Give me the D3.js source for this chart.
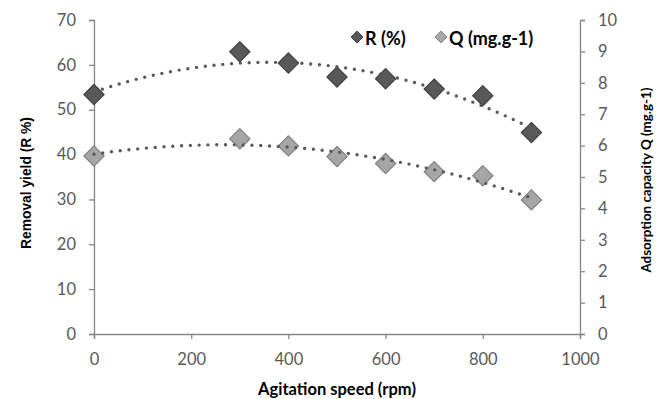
<!DOCTYPE html>
<html>
<head>
<meta charset="utf-8">
<script src="https://cdn.jsdelivr.net/npm/d3@7"></script>
<style>
  body { margin: 0; background: #fff; }
  svg { display: block; }
</style>
</head>
<body>
<svg id="chart" width="661" height="399"></svg>
<script>
// agitation speed (rpm)
const speeds = [0, 300, 400, 500, 600, 700, 800, 900];
// removal yield R (%) - left axis
const removal = [53.4, 62.9, 60.4, 57.3, 56.9, 54.6, 53.1, 44.9];
// adsorption capacity Q (mg.g-1) - right axis
const capacity = [5.67, 6.22, 5.99, 5.65, 5.43, 5.17, 5.04, 4.27];

const xTicks = [0, 200, 400, 600, 800, 1000];
const leftTicks = [0, 10, 20, 30, 40, 50, 60, 70];
const rightTicks = [0, 1, 2, 3, 4, 5, 6, 7, 8, 9, 10];

const svg = d3.select('#chart');
const plotLeft = 94, plotRight = 580, plotTop = 20, plotBottom = 334;

const x = d3.scaleLinear().domain([0, 1000]).range([plotLeft, plotRight]);
const yL = d3.scaleLinear().domain([0, 70]).range([plotBottom, plotTop]);
const yR = d3.scaleLinear().domain([0, 10]).range([plotBottom, plotTop]);

const axisColor = '#868686';
const tickFont = 'Lato, "Open Sans", sans-serif';

function styleAxis(g) {
  g.select('.domain').attr('stroke', axisColor).attr('stroke-width', 1.3);
  g.selectAll('.tick line').attr('stroke', axisColor).attr('stroke-width', 1.3);
  g.selectAll('.tick text')
    .attr('fill', '#595959')
    .style('font-family', tickFont)
    .style('font-size', '16.5px');
}

svg.append('g')
  .attr('transform', `translate(0,${plotBottom})`)
  .call(d3.axisBottom(x).tickValues(xTicks).tickFormat(d3.format('d'))
    .tickSizeOuter(0).tickSize(5).tickPadding(14))
  .call(styleAxis);

svg.append('g')
  .attr('transform', `translate(${plotLeft},0)`)
  .call(d3.axisLeft(yL).tickValues(leftTicks).tickSizeOuter(0).tickSize(5).tickPadding(13))
  .call(styleAxis);

svg.append('g')
  .attr('transform', `translate(${plotRight},0)`)
  .call(d3.axisRight(yR).tickValues(rightTicks).tickSizeOuter(0).tickSize(5).tickPadding(13))
  .call(styleAxis);

// second-order polynomial trendline (least squares)
function polyFit(xs, ys) {
  const n = xs.length;
  let s = [0, 0, 0, 0, 0], t = [0, 0, 0];
  for (let i = 0; i < n; i++) {
    const xi = xs[i];
    for (let k = 0; k < 5; k++) s[k] += Math.pow(xi, k);
    for (let k = 0; k < 3; k++) t[k] += ys[i] * Math.pow(xi, k);
  }
  const m = [
    [s[0], s[1], s[2], t[0]],
    [s[1], s[2], s[3], t[1]],
    [s[2], s[3], s[4], t[2]]
  ];
  for (let i = 0; i < 3; i++) {
    for (let j = i + 1; j < 3; j++) {
      const f = m[j][i] / m[i][i];
      for (let k = i; k < 4; k++) m[j][k] -= f * m[i][k];
    }
  }
  const c = [0, 0, 0];
  for (let i = 2; i >= 0; i--) {
    let v = m[i][3];
    for (let k = i + 1; k < 3; k++) v -= m[i][k] * c[k];
    c[i] = v / m[i][i];
  }
  return v => c[0] + c[1] * v + c[2] * v * v;
}

const fitR = polyFit(speeds, removal);
const fitQ = polyFit(speeds, capacity);
const xsFine = d3.range(0, 901, 5);

const series = [
  { vals: removal, fit: fitR, y: yL, fill: '#595959', stroke: '#404040' },
  { vals: capacity, fit: fitQ, y: yR, fill: '#a6a6a6', stroke: '#7f7f7f' }
];

const diamond = d3.symbol().type(d3.symbolDiamond2);

series.forEach(s => {
  svg.append('g')
    .selectAll('path')
    .data(speeds)
    .enter()
    .append('path')
    .attr('transform', (d, i) => `translate(${x(d)},${s.y(s.vals[i])})`)
    .attr('d', diamond.size(260)())
    .attr('fill', s.fill)
    .attr('stroke', s.stroke)
    .attr('stroke-width', 1.2);
});

series.forEach(s => {
  svg.append('path')
    .datum(xsFine)
    .attr('d', d3.line().x(d => x(d)).y(d => s.y(s.fit(d))))
    .attr('fill', 'none')
    .attr('stroke', '#595959')
    .attr('stroke-width', 3.4)
    .attr('stroke-linecap', 'round')
    .attr('stroke-dasharray', '0 8.8');
});

// legend
const legendItems = [
  { label: 'R (%)', x: 357, fill: '#595959', stroke: '#404040' },
  { label: 'Q (mg.g-1)', x: 441, fill: '#a6a6a6', stroke: '#7f7f7f' }
];
const lg = svg.append('g');
lg.selectAll('path')
  .data(legendItems)
  .enter()
  .append('path')
  .attr('transform', d => `translate(${d.x},37)`)
  .attr('d', diamond.size(90)())
  .attr('fill', d => d.fill)
  .attr('stroke', d => d.stroke);
lg.selectAll('text')
  .data(legendItems)
  .enter()
  .append('text')
  .attr('x', d => d.x + 8)
  .attr('y', 44.5)
  .style('font-family', tickFont)
  .style('font-weight', 'bold')
  .style('font-size', '18px')
  .attr('fill', '#000')
  .text(d => d.label);

// axis titles
svg.append('text')
  .attr('x', 337)
  .attr('y', 395)
  .attr('text-anchor', 'middle')
  .style('font-family', tickFont)
  .style('font-weight', 'bold')
  .style('font-size', '16.5px')
  .text('Agitation speed (rpm)');

svg.append('text')
  .attr('transform', 'translate(31,183) rotate(-90)')
  .attr('text-anchor', 'middle')
  .style('font-family', '"Liberation Sans", Arial, sans-serif')
  .style('font-weight', 'bold')
  .style('font-size', '13.8px')
  .text('Removal yield (R %)');

svg.append('text')
  .attr('transform', 'translate(651,180) rotate(-90)')
  .attr('text-anchor', 'middle')
  .style('font-family', tickFont)
  .style('font-weight', 'bold')
  .style('font-size', '13.4px')
  .text('Adsorption capacity Q (mg.g-1)');
</script>
</body>
</html>
